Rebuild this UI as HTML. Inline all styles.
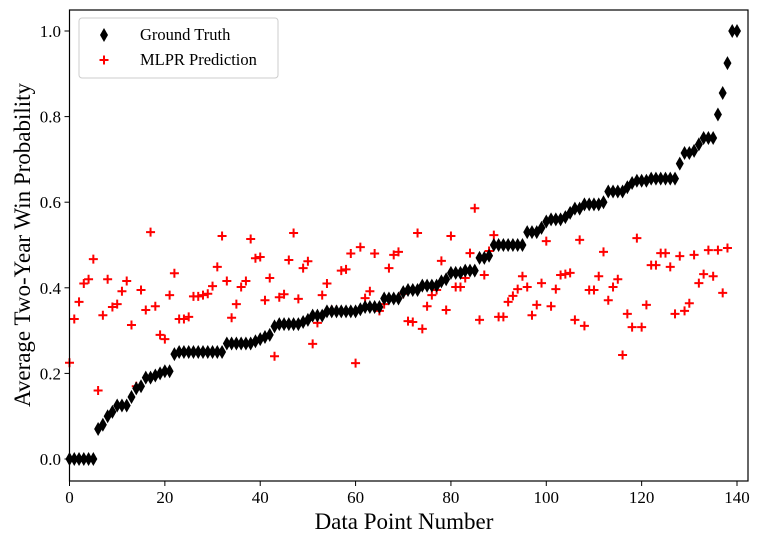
<!DOCTYPE html>
<html><head><meta charset="utf-8"><style>
body{margin:0;background:#fff;}
svg{display:block;font-family:"Liberation Serif",serif;}
</style></head><body>
<svg id="chart" width="763" height="544" xmlns="http://www.w3.org/2000/svg">
<rect x="0" y="0" width="763" height="544" fill="#fff"/>
<g id="marks"></g>
<rect x="69.5" y="10" width="678.5" height="471" fill="none" stroke="#000" stroke-width="1.2"/>
<g id="axes"></g>
<text x="404" y="529" font-size="23" text-anchor="middle">Data Point Number</text>
<text transform="translate(30,245) rotate(-90)" font-size="23" text-anchor="middle">Average Two-Year Win Probability</text>
<g>
<rect x="79" y="18" width="199" height="60" rx="3" fill="#fff" stroke="#ccc" stroke-width="1"/>
<path d="M104,28 L108,35 L104,42 L100,35 Z" fill="#000"/>
<text x="140" y="40" font-size="16.5">Ground Truth</text>
<path d="M99.5,60 H108.5 M104,55.5 V64.5" stroke="red" stroke-width="2"/>
<text x="140" y="65" font-size="16.5">MLPR Prediction</text>
</g>
</svg>
<script>
const groundTruth = [0,0,0,0,0,0,0.07,0.08,0.10,0.11,0.125,0.125,0.125,0.145,0.165,0.17,0.19,0.19,0.195,0.2,0.205,0.205,0.245,0.25,0.25,0.25,0.25,0.25,0.25,0.25,0.25,0.25,0.25,0.27,0.27,0.27,0.27,0.27,0.27,0.275,0.28,0.285,0.29,0.31,0.315,0.315,0.315,0.315,0.315,0.32,0.325,0.335,0.335,0.335,0.345,0.345,0.345,0.345,0.345,0.345,0.345,0.35,0.355,0.355,0.355,0.355,0.375,0.375,0.375,0.375,0.39,0.395,0.395,0.395,0.405,0.405,0.405,0.405,0.415,0.42,0.435,0.435,0.435,0.44,0.44,0.44,0.47,0.47,0.475,0.5,0.5,0.5,0.5,0.5,0.5,0.5,0.53,0.53,0.53,0.54,0.555,0.56,0.56,0.56,0.565,0.575,0.585,0.585,0.595,0.595,0.595,0.595,0.6,0.625,0.625,0.625,0.625,0.635,0.645,0.65,0.65,0.65,0.655,0.655,0.655,0.655,0.655,0.655,0.69,0.715,0.715,0.72,0.735,0.75,0.75,0.75,0.805,0.855,0.925,1.0,1.0];
const predictions = [0.225,0.327,0.367,0.41,0.42,0.467,0.16,0.336,0.42,0.355,0.362,0.392,0.416,0.313,0.17,0.395,0.348,0.53,0.357,0.29,0.28,0.383,0.434,0.327,0.327,0.332,0.38,0.38,0.383,0.386,0.404,0.449,0.521,0.416,0.33,0.362,0.402,0.416,0.514,0.469,0.472,0.371,0.423,0.24,0.378,0.385,0.465,0.528,0.374,0.446,0.462,0.269,0.318,0.383,0.41,0.348,0.348,0.44,0.443,0.48,0.224,0.495,0.376,0.392,0.48,0.346,0.362,0.446,0.477,0.484,0.386,0.322,0.32,0.528,0.304,0.357,0.383,0.395,0.463,0.348,0.521,0.402,0.402,0.423,0.481,0.586,0.325,0.43,0.486,0.523,0.332,0.332,0.367,0.381,0.397,0.427,0.402,0.336,0.36,0.411,0.509,0.357,0.397,0.43,0.432,0.435,0.325,0.512,0.311,0.395,0.395,0.427,0.484,0.371,0.402,0.42,0.243,0.339,0.308,0.516,0.308,0.36,0.453,0.453,0.481,0.481,0.449,0.339,0.474,0.346,0.364,0.477,0.411,0.432,0.488,0.427,0.488,0.388,0.493];
const xTicks = [0,20,40,60,80,100,120,140];
const yTicks = [0.0,0.2,0.4,0.6,0.8,1.0];
const yTickLabels = ["0.0","0.2","0.4","0.6","0.8","1.0"];

const NS = "http://www.w3.org/2000/svg";
function xs(v){ return 69.5 + v * (737 - 69.5) / 140; }
function ys(v){ return 459 - v * 428; }
const marks = document.getElementById('marks');
const axes = document.getElementById('axes');

predictions.forEach((v, i) => {
  const p = document.createElementNS(NS, 'path');
  const x = xs(i), y = ys(v);
  p.setAttribute('d', `M${x-4.5},${y} H${x+4.5} M${x},${y-4.5} V${y+4.5}`);
  p.setAttribute('stroke', 'red');
  p.setAttribute('stroke-width', '2');
  
  
  marks.appendChild(p);
});
groundTruth.forEach((v, i) => {
  const p = document.createElementNS(NS, 'path');
  const x = xs(i), y = ys(v);
  p.setAttribute('d', `M${x},${y-7} L${x+4},${y} L${x},${y+7} L${x-4},${y} Z`);
  p.setAttribute('fill', '#000');
  
  
  marks.appendChild(p);
});
xTicks.forEach(t => {
  const l = document.createElementNS(NS, 'line');
  l.setAttribute('x1', xs(t)); l.setAttribute('x2', xs(t));
  l.setAttribute('y1', 481); l.setAttribute('y2', 486);
  l.setAttribute('stroke', '#000');
  
  
  axes.appendChild(l);
  const tx = document.createElementNS(NS, 'text');
  tx.setAttribute('x', xs(t)); tx.setAttribute('y', 503);
  tx.setAttribute('font-size', '17'); tx.setAttribute('text-anchor', 'middle');
  tx.textContent = t;
  
  
  axes.appendChild(tx);
});
yTicks.forEach((t, k) => {
  const l = document.createElementNS(NS, 'line');
  l.setAttribute('x1', 64.5); l.setAttribute('x2', 69.5);
  l.setAttribute('y1', ys(t)); l.setAttribute('y2', ys(t));
  l.setAttribute('stroke', '#000');
  
  
  axes.appendChild(l);
  const tx = document.createElementNS(NS, 'text');
  tx.setAttribute('x', 61); tx.setAttribute('y', ys(t) + 6);
  tx.setAttribute('font-size', '17'); tx.setAttribute('text-anchor', 'end');
  tx.textContent = yTickLabels[k];
  
  
  axes.appendChild(tx);
});
</script>
</body></html>
